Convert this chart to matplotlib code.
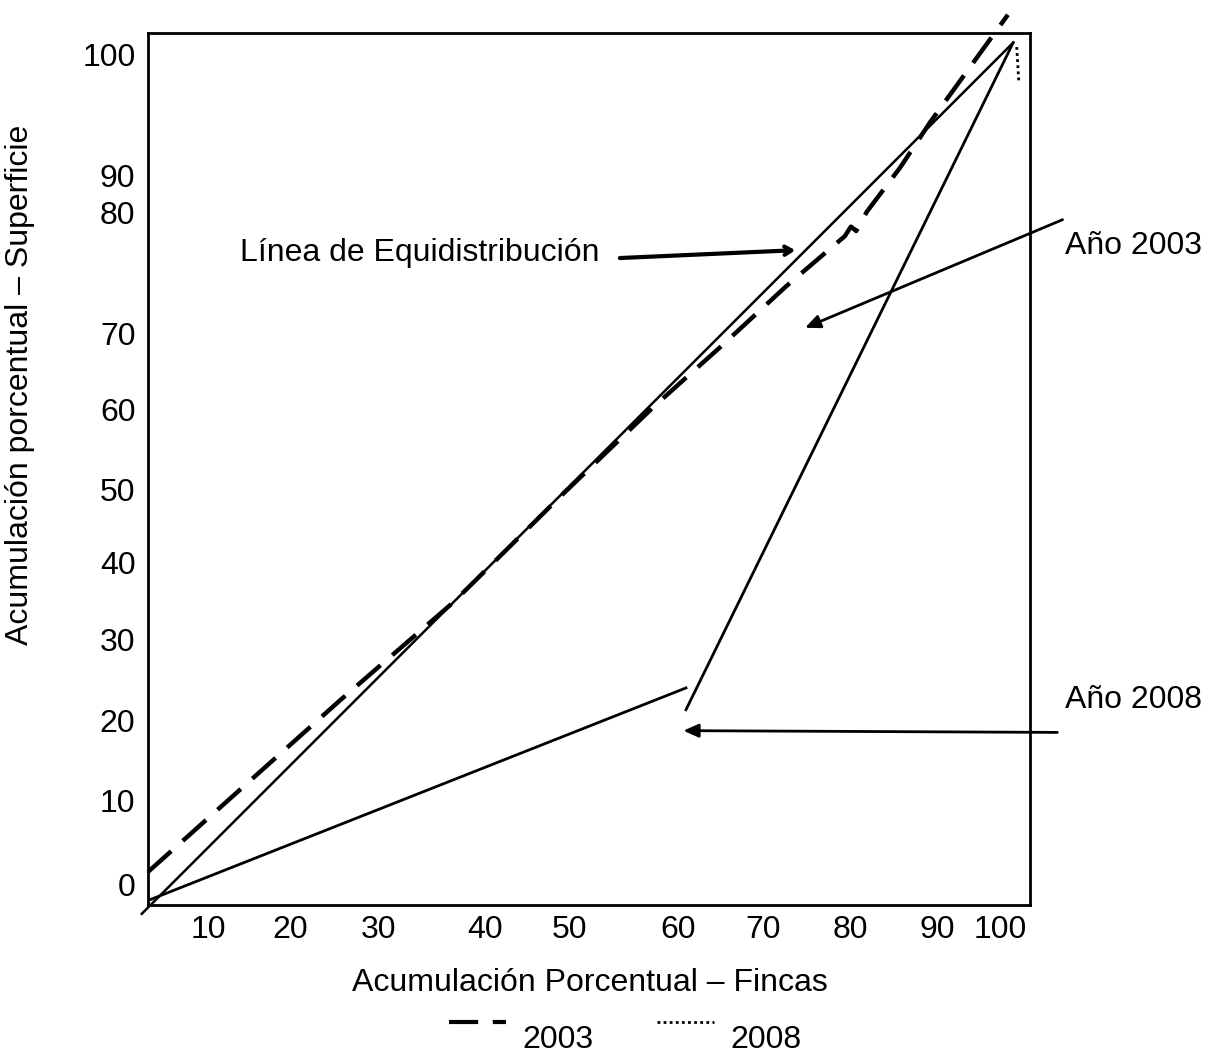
import matplotlib.pyplot as plt
from matplotlib.lines import Line2D

plt.rcParams['font.family'] = ['Liberation Sans', 'DejaVu Sans']

# ---------- datos (ejes normalizados 0-100 sobre el marco)

equi_x = [-0.7, 98.1]
equi_y = [-1.0, 98.9]

# 2003 (linea discontinua)
x2003 = [0.0, 21.8, 34.6, 46.7, 57.5, 64.9, 72.4, 79.0, 79.7, 80.3, 81.5, 85.3, 88.7, 97.5]
y2003 = [3.8, 23.5, 34.7, 46.8, 57.3, 64.0, 71.0, 76.7, 77.8, 77.3, 79.5, 84.6, 89.8, 102.1]

# tramo inferior y tramo empinado (lineas solidas)
low_x = [0.2, 61.0]
low_y = [0.6, 24.9]
steep_x = [61.0, 98.1]
steep_y = [22.4, 98.9]

# 2008 (punteada)
x2008 = [98.5, 98.75]
y2008 = [98.4, 94.2]

xtick_pos = [6.8, 16.1, 26.1, 38.2, 47.8, 60.1, 69.8, 79.6, 89.5, 96.6]
xtick_lab = ['10', '20', '30', '40', '50', '60', '70', '80', '90', '100']
ytick_pos = [2.3, 12.0, 21.2, 30.4, 39.3, 47.7, 56.8, 65.6, 79.4, 83.7, 97.5]
ytick_lab = ['0', '10', '20', '30', '40', '50', '60', '70', '80', '90', '100']

FS = 23

# --------------------------------------------------------------------------------

fig = plt.figure(figsize=(12.09, 10.53), dpi=100)
ax = fig.add_axes([0.1224, 0.1405, 0.7295, 0.8281])

ax.plot(equi_x, equi_y, '-k', lw=1.8, clip_on=False)
ax.plot(low_x, low_y, '-k', lw=2.0, clip_on=False)
ax.plot(steep_x, steep_y, '-k', lw=2.0, clip_on=False)
ax.plot(x2003, y2003, color='k', lw=3.2, ls=(0, (7, 3.5)), clip_on=False)
ax.plot(x2008, y2008, color='k', lw=2.0, ls=(0, (1, 1.2)), clip_on=False)

ax.set_xlim(0, 100)
ax.set_ylim(0, 100)
ax.set_xticks(xtick_pos, xtick_lab)
ax.set_yticks(ytick_pos, ytick_lab)
ax.tick_params(length=0, labelsize=FS)
ax.tick_params(axis='x', pad=7)
ax.tick_params(axis='y', pad=9)
for s in ax.spines.values():
    s.set_linewidth(2.0)

ax.set_xlabel('Acumulación Porcentual – Fincas', fontsize=FS)
ax.xaxis.set_label_coords(0.501, -0.072)
ax.set_ylabel('Acumulación porcentual – Superficie', fontsize=FS)
ax.yaxis.set_label_coords(-0.128, 0.596)

# ---------- anotaciones

ax.text(10.4, 74.8, 'Línea de Equidistribución', fontsize=FS, va='center')
ax.annotate('', xy=(73.4, 75.1), xytext=(53.5, 74.2), annotation_clip=False,
            arrowprops=dict(arrowstyle='->,head_length=0.5,head_width=0.3',
                            lw=3, color='k', shrinkA=0, shrinkB=0))

ax.text(104.0, 75.6, 'Año 2003', fontsize=FS, va='center', clip_on=False)
ax.annotate('', xy=(74.5, 66.2), xytext=(103.7, 78.6), annotation_clip=False,
            arrowprops=dict(arrowstyle='-|>,head_length=0.9,head_width=0.4',
                            lw=2, color='k', shrinkA=0, shrinkB=0))

ax.text(104.0, 23.5, 'Año 2008', fontsize=FS, va='center', clip_on=False)
ax.annotate('', xy=(60.7, 20.0), xytext=(103.1, 19.8), annotation_clip=False,
            arrowprops=dict(arrowstyle='-|>,head_length=0.9,head_width=0.4',
                            lw=2, color='k', shrinkA=0, shrinkB=0))

# ---------- leyenda

handles = [Line2D([], [], color='k', lw=3, ls=(0, (7, 3.5))),
           Line2D([], [], color='k', lw=2, ls=(0, (1, 1.2)))]
fig.legend(handles, ['2003', '2008'], loc='center', bbox_to_anchor=(0.517, 0.013),
           ncol=2, frameon=False, fontsize=FS, handlelength=1.8,
           handletextpad=0.5, columnspacing=2.0, handleheight=3.8)

fig.savefig('out.png', dpi=100)
